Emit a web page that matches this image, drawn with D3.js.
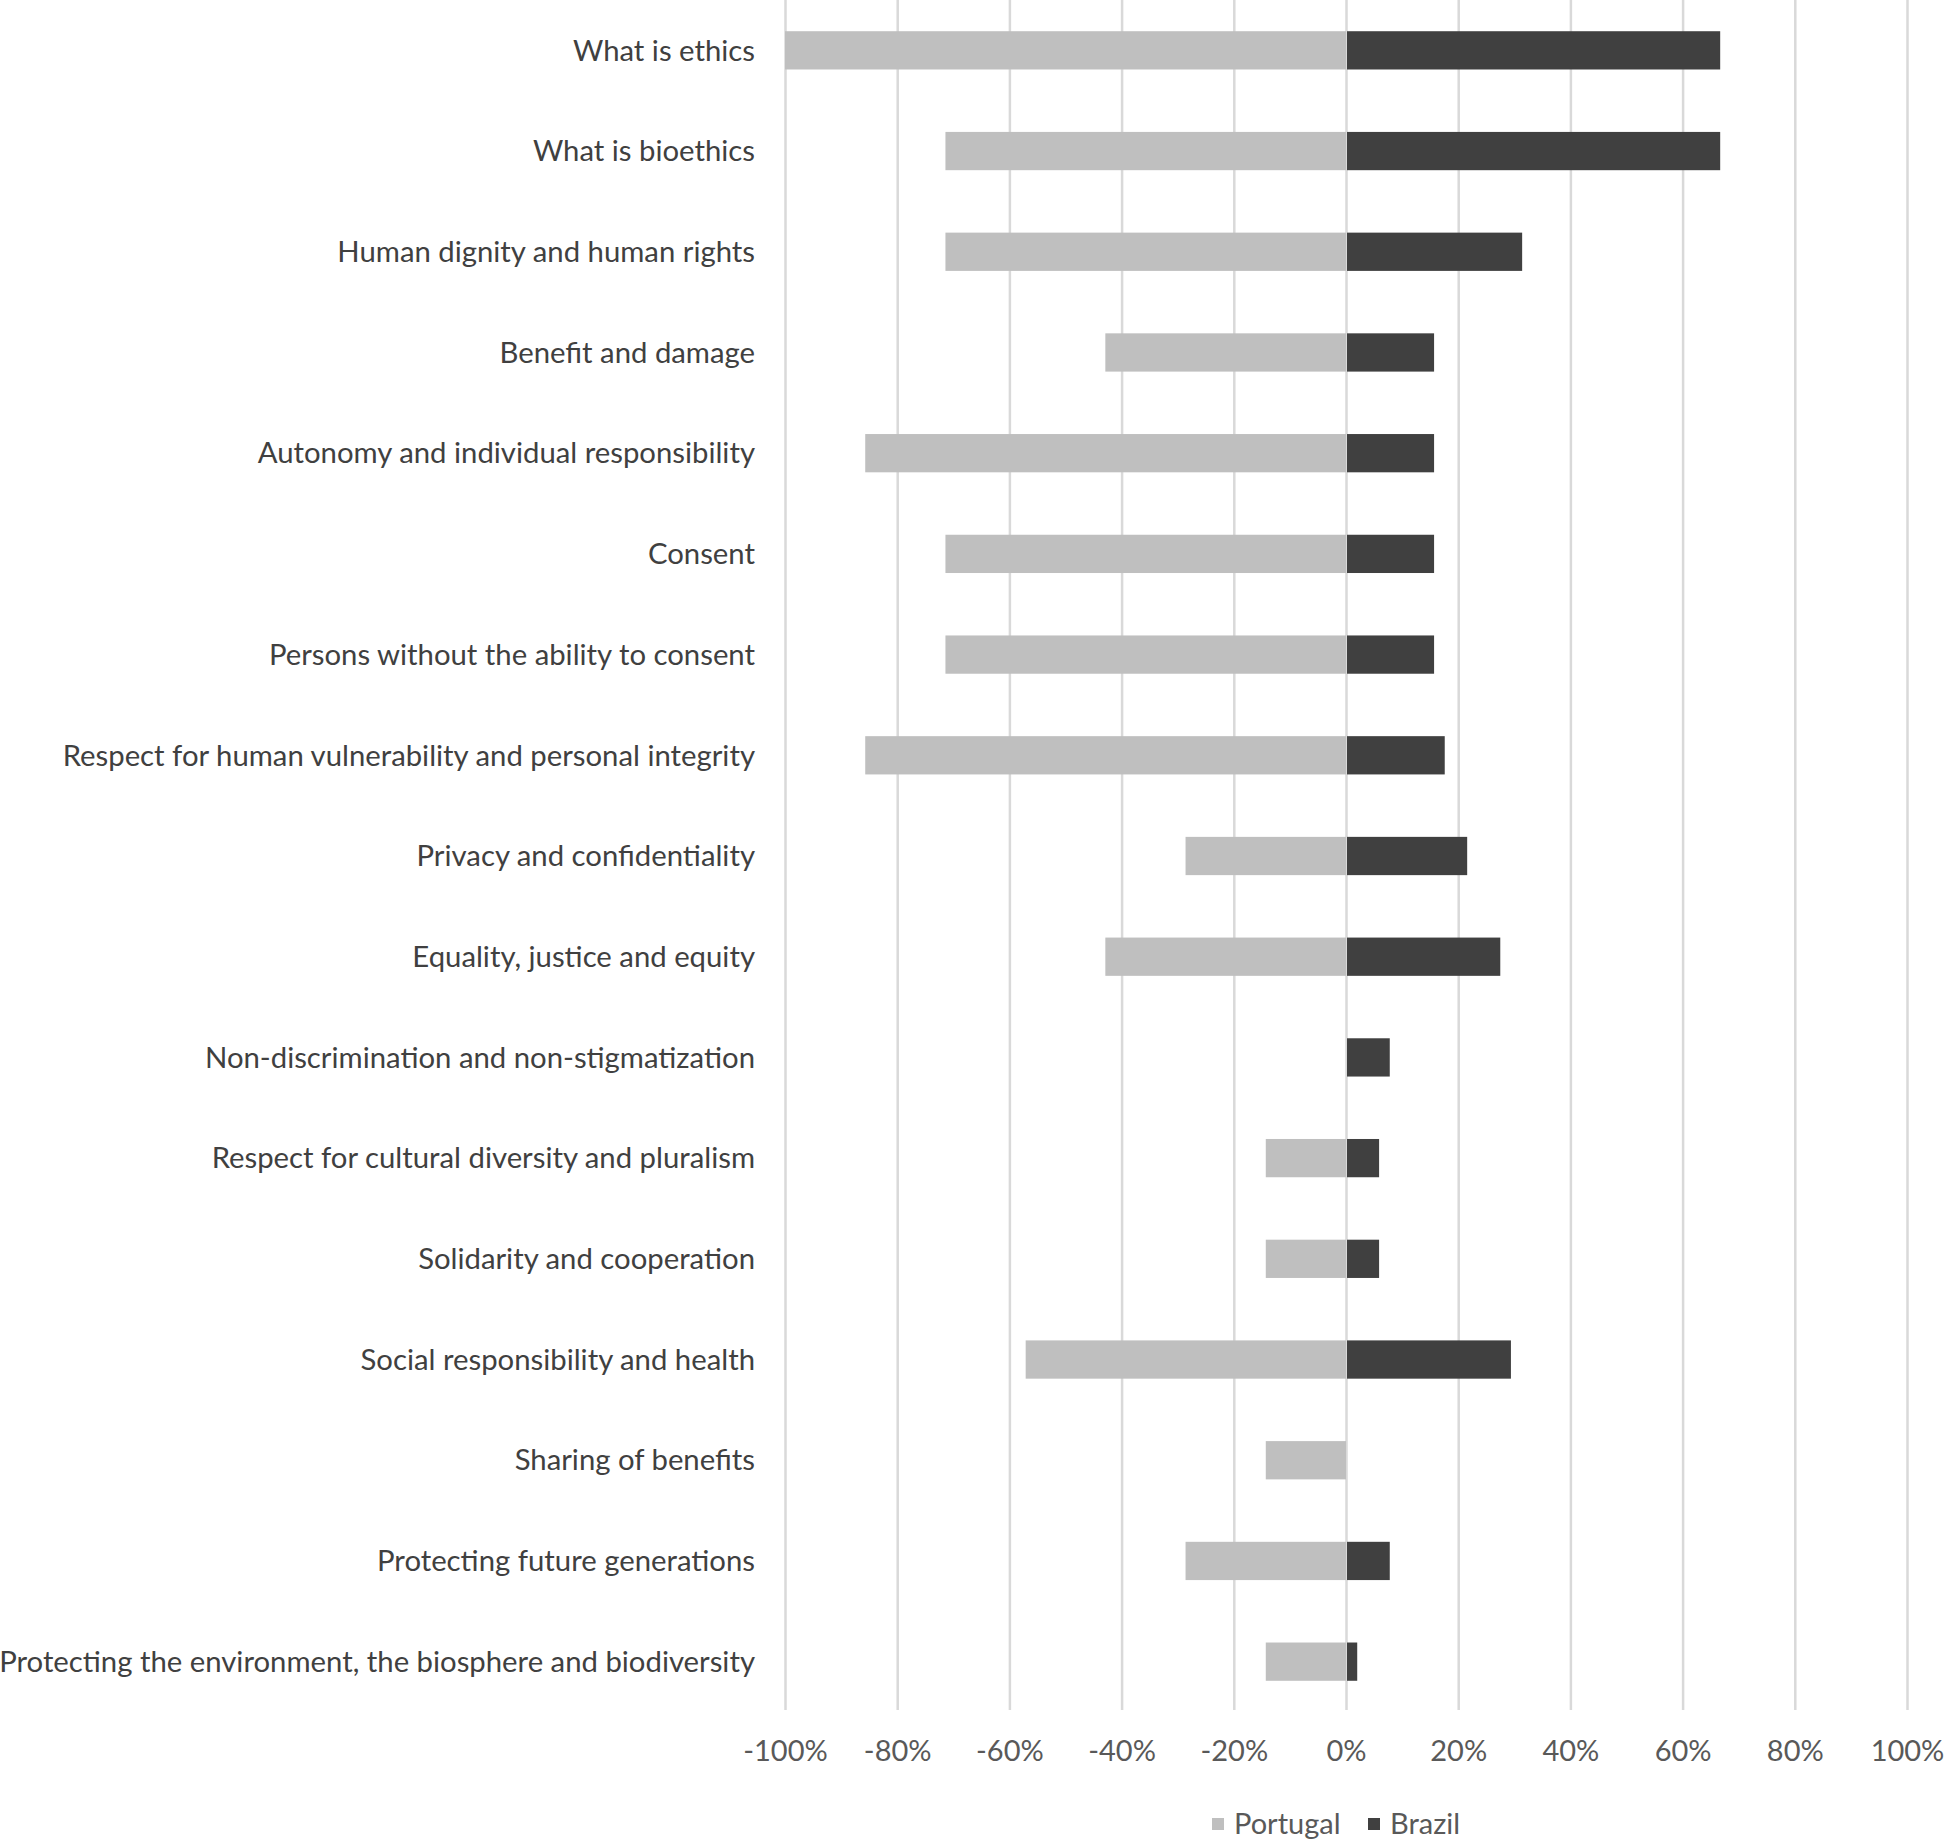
<!DOCTYPE html>
<html>
<head>
<meta charset="utf-8">
<script src="https://cdn.jsdelivr.net/npm/d3@7"></script>
<style>
  body { margin: 0; background: #fff; }
  #canvas { width: 1944px; height: 1843px; }
  text { font-family: Lato, 'Open Sans', sans-serif; }
</style>
</head>
<body>
<div id="canvas" class="canvas"></div>
<script>
// categories, top to bottom
var topics = [
  'What is ethics',
  'What is bioethics',
  'Human dignity and human rights',
  'Benefit and damage',
  'Autonomy and individual responsibility',
  'Consent',
  'Persons without the ability to consent',
  'Respect for human vulnerability and personal integrity',
  'Privacy and confidentiality',
  'Equality, justice and equity',
  'Non-discrimination and non-stigmatization',
  'Respect for cultural diversity and pluralism',
  'Solidarity and cooperation',
  'Social responsibility and health',
  'Sharing of benefits',
  'Protecting future generations',
  'Protecting the environment, the biosphere and biodiversity'
];

// Portugal drawn to the left (negative share)
var portugal = [-100, -71.4, -71.4, -42.9, -85.7, -71.4, -71.4, -85.7, -28.6, -42.9, 0, -14.3, -14.3, -57.1, -14.3, -28.6, -14.3];
var brazil   = [66.7, 66.7, 31.4, 15.7, 15.7, 15.7, 15.7, 17.6, 21.6, 27.5, 7.8, 5.9, 5.9, 29.4, 0, 7.8, 2.0];

var ticks = [-100, -80, -60, -40, -20, 0, 20, 40, 60, 80, 100];
var seriesNames = ['Portugal', 'Brazil'];
var colors = ['#bfbfbf', '#404040'];

var outerWidth = 1944, outerHeight = 1843;
var m = {t:0, l:785, r:37};
var plotH = 1712;

var svg = d3.select('.canvas')
    .append('svg')
    .attr('width', outerWidth)
    .attr('height', outerHeight);

var scaleX = d3.scaleLinear()
    .domain([-100, 100])
    .range([m.l, outerWidth - m.r]);

var scaleY = d3.scaleBand()
    .domain(topics)
    .range([m.t, m.t + plotH])
    .paddingInner(0.62)
    .paddingOuter(0.31);

// gridlines + tick labels
var axisX = d3.axisBottom(scaleX)
    .tickValues(ticks)
    .tickSize(plotH - 2)
    .tickPadding(30)
    .tickFormat(function(d){ return d + '%'; });

var gx = svg.append('g')
    .attr('class', 'axis')
    .attr('transform', 'translate(0,' + m.t + ')')
    .call(axisX);
gx.select('.domain').remove();
gx.selectAll('line').attr('stroke', '#d9d9d9').attr('stroke-width', 2.5);
gx.selectAll('text')
    .attr('fill', '#595959')
    .style('font-size', '29px');

// bars
var rows = svg.selectAll('.row')
    .data(topics)
    .enter()
    .append('g')
    .attr('class', 'row');

rows.append('rect')
    .attr('x', function(d,i){ return scaleX(portugal[i]); })
    .attr('y', function(d){ return scaleY(d); })
    .attr('width', function(d,i){ return scaleX(0) - scaleX(portugal[i]); })
    .attr('height', scaleY.bandwidth())
    .attr('fill', colors[0]);

rows.append('rect')
    .attr('x', scaleX(0) + 1)
    .attr('y', function(d){ return scaleY(d); })
    .attr('width', function(d,i){ return Math.max(0, scaleX(brazil[i]) - scaleX(0) - 1); })
    .attr('height', scaleY.bandwidth())
    .attr('fill', colors[1]);

// category labels
rows.append('text')
    .attr('x', 755)
    .attr('y', function(d){ return scaleY(d) + scaleY.bandwidth()/2; })
    .attr('dy', '0.35em')
    .attr('text-anchor', 'end')
    .attr('fill', '#404040')
    .style('font-size', '29.3px')
    .text(function(d){ return d; });

// legend
var legend = svg.append('g')
    .attr('transform', 'translate(1212,1824)');

var items = legend.selectAll('.item')
    .data(seriesNames)
    .enter()
    .append('g')
    .attr('class', 'item')
    .attr('transform', function(d,i){ return 'translate(' + (i*156) + ',0)'; });

items.append('rect')
    .attr('x', 0)
    .attr('y', -6)
    .attr('width', 12)
    .attr('height', 12)
    .attr('fill', function(d,i){ return colors[i]; });

items.append('text')
    .attr('x', 22)
    .attr('dy', '0.35em')
    .attr('fill', '#595959')
    .style('font-size', '29px')
    .text(function(d){ return d; });
</script>
</body>
</html>
